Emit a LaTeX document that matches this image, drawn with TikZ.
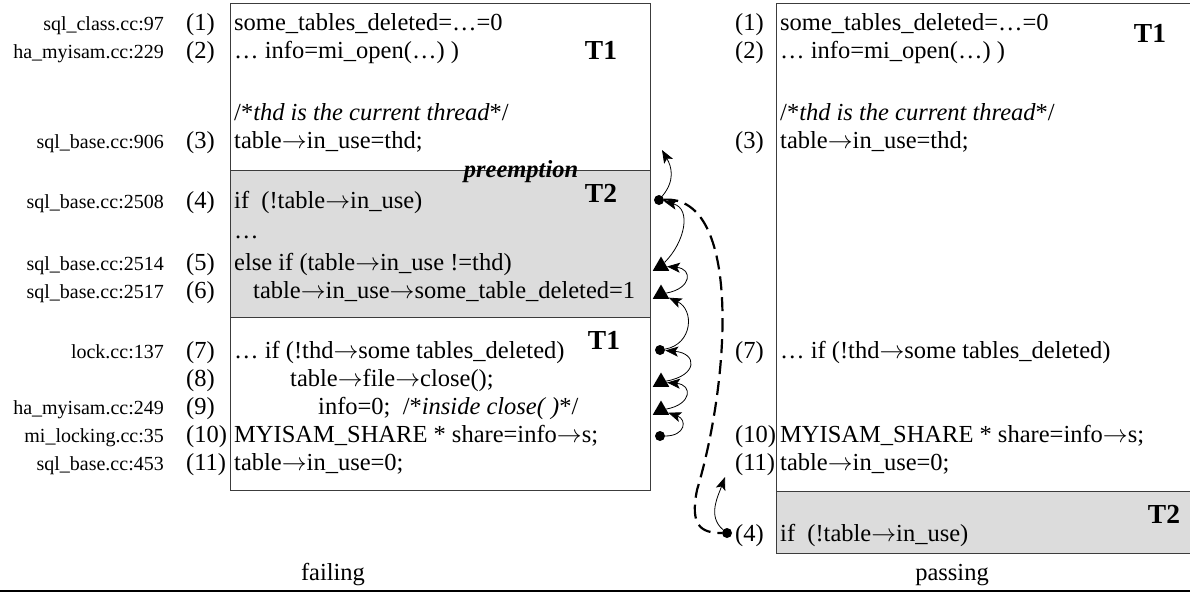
\documentclass[tikz,border=0pt]{standalone}
\usepackage{fontspec}
\setmainfont{Liberation Serif}
\usetikzlibrary{positioning,arrows.meta,shapes.geometric}
\definecolor{paleGray}{HTML}{DCDCDC}
\definecolor{frameGray}{HTML}{3C3C3C}
\newcommand{\codesize}{\fontsize{24.5}{28}\selectfont}
\newcommand{\ptr}{\ensuremath{\rightarrow}}
\tikzset{
  codeline/.style={anchor=base west, inner sep=0pt, font=\codesize},
  linenum/.style={anchor=base west, inner sep=0pt, font=\codesize},
  srcfile/.style={anchor=base east, inner sep=0pt, font=\fontsize{20}{24}\selectfont},
  thread/.style={inner sep=0pt, font=\fontsize{27.5}{30}\selectfont\bfseries},
  runname/.style={anchor=base, inner sep=0pt, font=\codesize},
  panel/.style={draw=frameGray, line width=1pt},
  evdot/.style={circle, fill=black, inner sep=0pt, minimum size=10pt},
  evtri/.style={regular polygon, regular polygon sides=3, fill=black, inner sep=0pt, minimum size=19pt},
  flow/.style={-{Stealth[length=13pt,width=10pt,inset=3pt]}, line width=0.8pt},
  raceflow/.style={line width=2.2pt, dash pattern=on 14pt off 7pt}
}

\begin{document}
\begin{tikzpicture}[x=1pt, y=-1pt]
\useasboundingbox (0,0) rectangle (1190,592);

% failing run
\fill[paleGray] (230,170) rectangle (650,317);
\draw[panel] (230,3) rectangle (650,490);
\draw[panel] (230,170) -- (650,170) (230,317) -- (650,317);

\node[srcfile] (f1) at (164,30) {sql\_class.cc:97};
\node[srcfile] (f2) at (164,58) {ha\_myisam.cc:229};
\node[srcfile] (f3) at (164,148) {sql\_base.cc:906};
\node[srcfile] (f4) at (164,208) {sql\_base.cc:2508};
\node[srcfile] (f5) at (164,270) {sql\_base.cc:2514};
\node[srcfile] (f6) at (164,298) {sql\_base.cc:2517};
\node[srcfile] (f7) at (164,358) {lock.cc:137};
\node[srcfile] (f9) at (164,414) {ha\_myisam.cc:249};
\node[srcfile] (f10) at (164,442) {mi\_locking.cc:35};
\node[srcfile] (f11) at (164,470) {sql\_base.cc:453};

\node[linenum] (n1) at (186,30) {(1)};
\node[linenum] (n2) at (186,58) {(2)};
\node[linenum] (n3) at (186,148) {(3)};
\node[linenum] (n4) at (186,208) {(4)};
\node[linenum] (n5) at (186,270) {(5)};
\node[linenum] (n6) at (186,298) {(6)};
\node[linenum] (n7) at (186,358) {(7)};
\node[linenum] (n8) at (186,386) {(8)};
\node[linenum] (n9) at (186,414) {(9)};
\node[linenum] (n10) at (186,442) {(10)};
\node[linenum] (n11) at (186,470) {(11)};

\node[codeline] (c1) at (234,30) {some\_tables\_deleted=…=0};
\node[codeline] (c2) at (234,58) {… info=mi\_open(…) )};
\node[codeline] (cc) at (234,120) {/*\textit{thd is the current thread}*/};
\node[codeline] (c3) at (234,148) {table\ptr in\_use=thd;};
\node[codeline] (c4) at (234,208) {if\ \ (!table\ptr in\_use)};
\node[codeline] (cd) at (234,238) {…};
\node[codeline] (c5) at (234,270) {else if (table\ptr in\_use !=thd)};
\node[codeline] (c6) at (253,298) {table\ptr in\_use\ptr some\_table\_deleted=1};
\node[codeline] (c7) at (234,358) {… if (!thd\ptr some tables\_deleted)};
\node[codeline] (c8) at (290,386) {table\ptr file\ptr close();};
\node[codeline] (c9) at (318,414) {info=0;\ \ /*\textit{inside close( )}*/};
\node[codeline] (c10) at (234,442) {MYISAM\_SHARE * share=info\ptr s;};
\node[codeline] (c11) at (234,470) {table\ptr in\_use=0;};

\node[thread] (t1a) at (601,50) {T1};
\node[thread] (t2a) at (601,193) {T2};
\node[thread] (t1b) at (604,340) {T1};
\node[runname, font=\codesize\bfseries\itshape] (pre) at (521,177) {preemption};

% passing run
\fill[paleGray] (776,491) rectangle (1192,553);
\draw[panel] (776,3) rectangle (1192,553);
\draw[panel] (776,491) -- (1192,491);

\node[linenum] (pn1) at (735,30) {(1)};
\node[linenum] (pn2) at (735,58) {(2)};
\node[linenum] (pn3) at (735,148) {(3)};
\node[linenum] (pn7) at (735,358) {(7)};
\node[linenum] (pn10) at (735,442) {(10)};
\node[linenum] (pn11) at (735,470) {(11)};
\node[linenum] (pn4) at (735,541) {(4)};

\node[codeline] (pc1) at (780,30) {some\_tables\_deleted=…=0};
\node[codeline] (pc2) at (780,58) {… info=mi\_open(…) )};
\node[codeline] (pcc) at (780,120) {/*\textit{thd is the current thread}*/};
\node[codeline] (pc3) at (780,148) {table\ptr in\_use=thd;};
\node[codeline] (pc7) at (780,358) {… if (!thd\ptr some tables\_deleted)};
\node[codeline] (pc10) at (780,442) {MYISAM\_SHARE * share=info\ptr s;};
\node[codeline] (pc11) at (780,470) {table\ptr in\_use=0;};
\node[codeline] (pc4) at (780,541) {if\ \ (!table\ptr in\_use)};

\node[thread] (t1p) at (1150,33) {T1};
\node[thread] (t2p) at (1164,514) {T2};

\node[runname] (fail) at (333,580) {failing};
\node[runname] (pass) at (952,580) {passing};
\draw[line width=1.5pt] (0,591) -- (1190,591);

% events and happens-before edges
\coordinate (m3) at (662,150);
\node[evdot] (m4) at (659,200) {};
\node[evtri] (m5) at (661,266) {};
\node[evtri] (m6) at (661,294) {};
\node[evdot] (m7) at (660,350) {};
\node[evtri] (m8) at (661,382) {};
\node[evtri] (m9) at (661,410) {};
\node[evdot] (m10) at (660,436) {};
\node[evdot] (p4) at (727,533) {};
\coordinate (p11) at (725,477);

\draw[flow] (m4) to[out=50,in=-60,looseness=1.1] (m3);
\draw[flow] (m5) to[out=45,in=-15,looseness=1.2] (m4);
\draw[flow] (m6) to[out=10,in=-5,looseness=2.5] (m5);
\draw[flow] (m7) to[out=10,in=-25,looseness=1.4] (m6);
\draw[flow] (m8) to[out=10,in=-5,looseness=2.7] (m7);
\draw[flow] (m9) to[out=10,in=-5,looseness=2.5] (m8);
\draw[flow] (m10) to[out=0,in=-20,looseness=2.2] (m9);
\draw[raceflow] (m4) .. controls (742,195) and (730,380) .. (697,490)
  .. controls (690,525) and (700,533) .. (p4);
\draw[flow] (p4) to[out=140,in=-110] (p11);
\end{tikzpicture}
\end{document}
